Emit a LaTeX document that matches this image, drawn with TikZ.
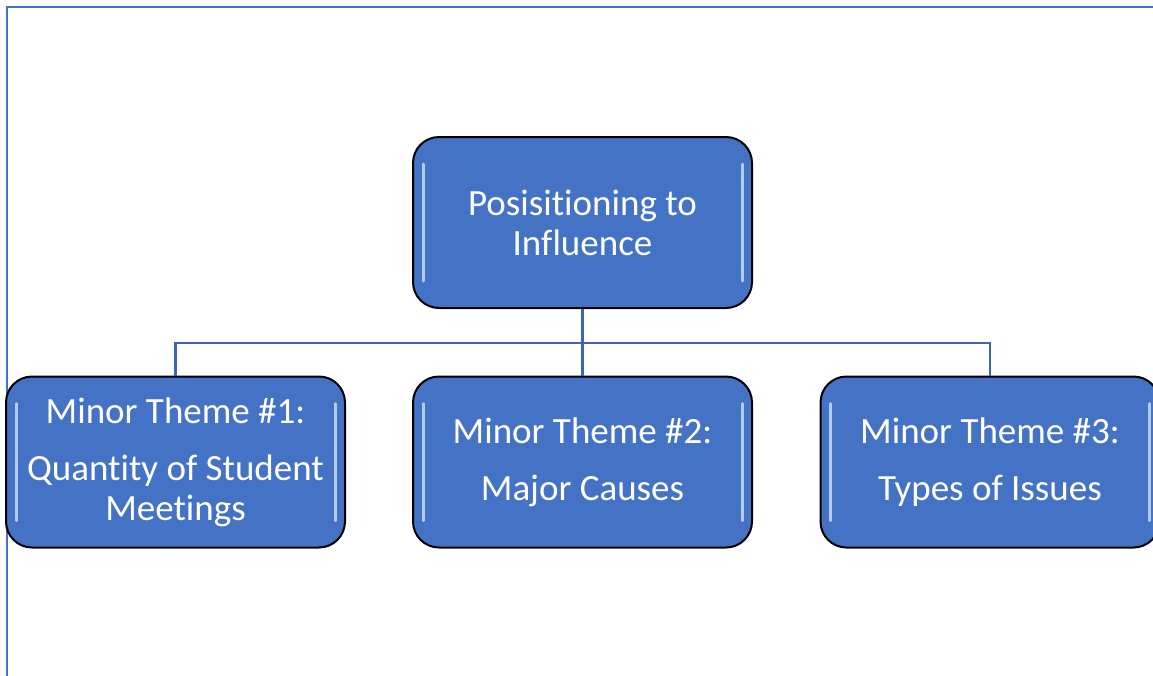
\documentclass[tikz,border=0pt]{standalone}
\usepackage{fontspec}
\setmainfont[RawFeature=-liga]{Carlito}
\begin{document}
\begin{tikzpicture}[x=1pt,y=-1pt,
  box/.style={draw=black, line width=2pt, fill=boxblue, rounded corners=26pt,
    minimum width=339pt, minimum height=171pt, text=white, align=center,
    inner sep=0pt, font=\fontsize{37}{40}\selectfont},
  hl/.style={draw=hlblue, line width=3pt, line cap=round},
  conn/.style={draw=connblue, line width=2.5pt},
  frame/.style={draw=boxblue, line width=2.5pt}]
\definecolor{boxblue}{HTML}{4472C4}
\definecolor{hlblue}{HTML}{B4CCF2}
\definecolor{connblue}{HTML}{3F64AE}
\useasboundingbox (0,0) rectangle (1153,675);
\clip (0,0) rectangle (1153,675);
\fill[white] (0,0) rectangle (1153,675);
\draw[frame] (7,676) -- (7,7) -- (1154,7);

\node[box] (top) at (582.5,222.5) {Posisitioning to\\Influence};
\node[box] (b1) at (175.5,462) {Minor Theme \#1:\\[17pt]Quantity of Student\\Meetings};
\node[box] (b2) at (582.5,462) {Minor Theme \#2:\\[17pt]Major Causes};
\node[box] (b3) at (990,462) {Minor Theme \#3:\\[17pt]Types of Issues};

\foreach \n in {top,b1,b2,b3}{
  \draw[hl] ([xshift=11pt,yshift=-28pt]\n.north west) -- ([xshift=11pt,yshift=28pt]\n.south west);
  \draw[hl] ([xshift=-11pt,yshift=-28pt]\n.north east) -- ([xshift=-11pt,yshift=28pt]\n.south east);
}

\coordinate (bus) at (582.5,343);
\draw[conn] (top.south) -- (bus);
\draw[conn] (bus) -- (b2.north);
\draw[conn] (bus) -| (b1.north);
\draw[conn] (bus) -| (b3.north);
\end{tikzpicture}
\end{document}
